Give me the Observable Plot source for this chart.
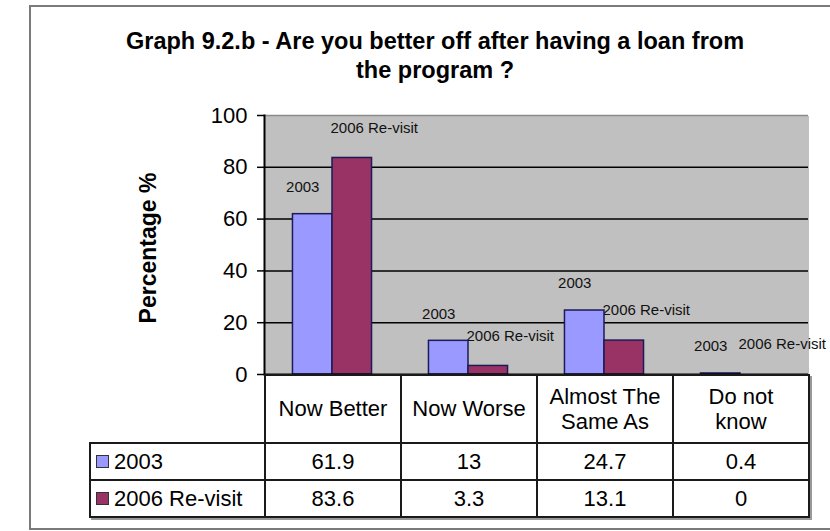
<!DOCTYPE html>
<html>
<head>
<meta charset="utf-8">
<script src="https://cdn.jsdelivr.net/npm/d3@7"></script>
<script src="https://cdn.jsdelivr.net/npm/@observablehq/plot@0.6"></script>
<style>
  body { margin: 0; background: #fff; }
  #wrap { position: relative; width: 830px; height: 531px; overflow: hidden; font-family: "Liberation Sans", Arial, sans-serif; color: #000; }
  #frame { position: absolute; left: 29px; top: 5px; width: 840px; height: 525px; border: 2px solid #7a7a7a; border-right: none; box-sizing: border-box; }
  #title { position: absolute; left: 30px; width: 810px; top: 27px; text-align: center; font-family: "Liberation Sans Narrow", "Liberation Sans", Arial, sans-serif; font-weight: bold; font-size: 23.5px; line-height: 29px; }
  #ylabel { position: absolute; left: 148px; top: 248px; transform: translate(-50%, -50%) rotate(-90deg); font-weight: bold; font-size: 23px; white-space: nowrap; }
  #chart { position: absolute; left: 0; top: 0; }
  #tbl { position: absolute; left: 89px; top: 374px; border-collapse: collapse; table-layout: fixed; width: 719px; font-size: 22px; box-shadow: 2px 2px 0 #999; }
  #tbl td { border: 2px solid #1a1a1a; text-align: center; padding: 0; }
  #tbl tr.head td { height: 66px; vertical-align: middle; }
  #tbl tr.head td.blank { border-top: none; border-left: none; border-bottom: 2px solid #1a1a1a; }
  #tbl tr.row td { height: 35px; }
  #tbl td.leg { text-align: left; padding-left: 5px; white-space: nowrap; }
  .sw { display: inline-block; width: 11px; height: 11px; border: 1px solid #333; margin-right: 5px; vertical-align: 1px; }
  .hd { display: inline-block; width: 118px; line-height: 25px; }
</style>
</head>
<body>
<div id="wrap">
  <div id="frame"></div>
  <div id="title"></div>
  <div id="ylabel"></div>
  <div id="chart"></div>
  <table id="tbl"></table>
</div>
<script>
const titleLines = ["Graph 9.2.b - Are you better off after having a loan from", "the program ?"];
const yLabel = "Percentage %";
const categories = ["Now Better", "Now Worse", "Almost The Same As", "Do not know"];
const seriesNames = ["2003", "2006 Re-visit"];
const values2003 = [61.9, 13, 24.7, 0.4];
const values2006 = [83.6, 3.3, 13.1, 0];
const yTicks = [0, 20, 40, 60, 80, 100];
const colors = ["#9999FF", "#993366"];

const data = categories.flatMap((c, i) => [
  {cat: c, series: seriesNames[0], value: values2003[i]},
  {cat: c, series: seriesNames[1], value: values2006[i]}
]);
const data2003 = data.filter(d => d.series === seriesNames[0]);
const data2006 = data.filter(d => d.series === seriesNames[1]);

const titleEl = document.getElementById("title");
titleLines.forEach((t, i) => {
  if (i) titleEl.appendChild(document.createElement("br"));
  titleEl.appendChild(document.createTextNode(t));
});
document.getElementById("ylabel").textContent = yLabel;

const chart = Plot.plot({
  width: 830,
  height: 390,
  marginLeft: 264,
  marginRight: 22,
  marginTop: 115,
  marginBottom: 16,
  style: {fontFamily: "'Liberation Sans', Arial, sans-serif", fontSize: "22px", background: "transparent", overflow: "visible"},
  fx: {domain: categories, padding: 0, axis: null},
  x: {domain: seriesNames, paddingInner: 0, paddingOuter: 0.72, axis: null, round: false},
  y: {domain: [0, 100], axis: null},
  color: {domain: seriesNames, range: colors},
  marks: [
    Plot.frame({fill: "#c0c0c0", shapeRendering: "crispEdges"}),
    Plot.ruleY([20, 40, 60, 80], {stroke: "#000", strokeWidth: 1.5}),
    Plot.ruleY([100], {stroke: "#8a8a8a", strokeWidth: 1.5}),
    Plot.text(data2003, {fx: "cat", x: "series", y: "value", text: "series", dx: -10, dy: -27, fontSize: 15, fill: "#111"}),
    Plot.text(data2006, {fx: "cat", x: "series", y: "value", text: "series", dx: 22, dy: -30, fontSize: 15, fill: "#111"}),
    Plot.barY(data, {fx: "cat", x: "series", y: "value", fill: "series", stroke: "#1b1b55", strokeWidth: 1.5}),
    Plot.ruleY([0], {stroke: "#000", strokeWidth: 2}),
    Plot.frame({anchor: "left", facetAnchor: "left", stroke: "#000", strokeWidth: 2}),
    Plot.axisY({ticks: yTicks, tickSize: 7, tickPadding: 10, label: null, strokeWidth: 1.5})
  ]
});
document.getElementById("chart").appendChild(chart);

// data table below the plot
const tbl = document.getElementById("tbl");
let html = '<colgroup><col style="width:175px">' + categories.map(() => '<col style="width:136px">').join("") + '</colgroup>';
html += '<tr class="head"><td class="blank"></td>' + categories.map(c => `<td><span class="hd">${c}</span></td>`).join("") + '</tr>';
[values2003, values2006].forEach((vals, si) => {
  html += `<tr class="row"><td class="leg"><span class="sw" style="background:${colors[si]}"></span>${seriesNames[si]}</td>` +
    vals.map(v => `<td>${v}</td>`).join("") + '</tr>';
});
tbl.innerHTML = html;
</script>
</body>
</html>
